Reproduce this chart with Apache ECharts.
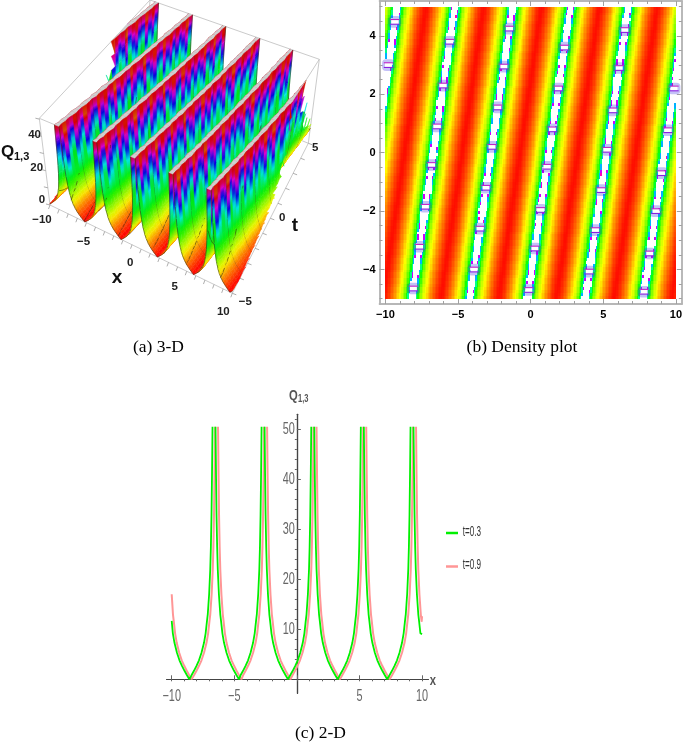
<!DOCTYPE html>
<html><head><meta charset="utf-8">
<style>html,body{margin:0;padding:0;background:#fff}#c{width:685px;height:742px}</style>
<script src="https://cdn.jsdelivr.net/npm/echarts@6/dist/echarts.min.js"></script>
</head><body><div id="c"></div>
<script>
// ---------- values ----------
const profileD = [0.12,0.16,0.2,0.25,0.3,0.39,0.5,0.57,0.67,0.8,1,1.2,1.4,1.6,1.8,1.99];
const profileQ = [50.5,41,33,26.5,22,17,13,11.5,9.2,7.3,5.3,3.8,2.7,1.7,0.8,0];
const poles03 = [-10.58,-6.62,-2.7,1.27,5.23,9.2];
const poles09 = [-10.4,-6.42,-2.5,1.45,5.42,9.4];
const edges03 = [11.7,9];
const edges09 = [17,12.6];
const ridgesAtMinus5 = [-12.16,-8.18,-4.2,-0.22,3.76,7.74,11.72];
const ridgesAtPlus5 = [-9.2,-5.22,-1.24,2.74,6.72,10.7,14.68];
const densityLevels = [.9,.9,.9,.88,.8,.55,.42,.36,.32,.29,.265,.245,.23,.215,.2,.19,.18,.17,.16,.15,.14,.13,.12,.11,.1,.092,.085,.077,.07,.062,.055,.048,.04,.035,.03,.025,.02,.015,.012,.01,.008];
const coreWidth = [.2,.25,.17,.22,.27,.18,.23,.16,.21,.26,.19,.24,.17,.22,.27,.2,.18,.25,.22,.16,.26,.19,.23,.28,.18,.21,.17,.26,.23,.19,.25,.16,.22,.27,.2,.18,.24,.21,.26,.17,.23,.19,.28,.22,.18,.25,.16,.23,.2,.26];
const barsA = [4.48,3.0];
const barsB = [3.8,2.3,0.9,-0.42,-1.85,-3.22,-4.65];
const barsC = [4.25,2.95,1.55,0.2,-1.2,-2.6,-4.0];
const barsD = [3.6,2.2,0.8,-0.48,-1.96,-3.28,-4.7];
const barsE = [4.2,2.9,1.45,0.1,-1.28,-2.65,-4.07];
const barsF = [2.2,0.77,-0.7,-2.0,-3.45,-4.76];
const streak = [.02,.17,.05,-.09,.2,.07,-.11,.13,.22,-.03,.06,.18,-.1,.02,.14,.21,-.07,.09,-.04,.19,.07,-.12,.16,-.02,.11,.23,-.09,.03,.17,.08,-.11,.2,.05,-.05,.14,.2,-.09,.1,-.03,.17];
const wallFrac = [0,.16,.36,.55,.7,.82,.92,1];
const wallHue = [0,.167,.33,.5,.67,.83,1,1];
const xTicksMajor = [-10,-5,0,5,10];
const xTicksMinor = [-10,-9,-8,-7,-6,-5,-4,-3,-2,-1,0,1,2,3,4,5,6,7,8,9,10];
const tTicksMajor = [-4,-2,0,2,4];
const tTicksMinor = [-5,-4.5,-4,-3.5,-3,-2.5,-2,-1.5,-1,-0.5,0,0.5,1,1.5,2,2.5,3,3.5,4,4.5,5];
const qTicksMajor = [10,20,30,40,50];
const qTicksMinor = [2,4,6,8,12,14,16,18,22,24,26,28,32,34,36,38,42,44,46,48,52];
const xLabels2D = [-10,-5,5,10];
const zTicks3D = [0,10,20,30,40,50];
const meshX = [-8.75,-7.5,-6.25,-5,-3.75,-2.5,-1.25,0,1.25,2.5,3.75,5,6.25,7.5,8.75];
const names = ['t=0.3','t=0.9'];

// ---------- projection box of the 3-D panel (page pixels) ----------
const zTop = 50.5;
const B = {a:[50,205], b:[232.3,293.3], c:[308.3,143.3], d:[145,75]};
const T = {a:[39.3,118.3], b:[230.7,198.3], c:[319.3,59.3], d:[150,0]};
function proj(x,t,z){
  const a=(x+10)/20, b=(t+5)/10, c=z/zTop;
  const bl=(S,i)=>S.a[i]*(1-a)*(1-b)+S.b[i]*a*(1-b)+S.c[i]*a*b+S.d[i]*(1-a)*b;
  return [bl(B,0)*(1-c)+bl(T,0)*c, bl(B,1)*(1-c)+bl(T,1)*c];
}
function hsv(h,s,v){
  h=((h%1)+1)%1;const i=Math.floor(h*6),f=h*6-i,p=v*(1-s),q=v*(1-f*s),u=v*(1-(1-f)*s);
  const m=[[v,u,p],[q,v,p],[p,v,u],[p,q,v],[u,p,v],[v,p,q]][i%6];
  return 'rgb('+m.map(c=>Math.round(c*255)).join(',')+')';
}
function surfColor(z,s){
  const f=Math.min(1,Math.max(0,z/zTop));
  let h=1;
  for(let k=1;k<wallFrac.length;k++) if(f<=wallFrac[k]){
    h=wallHue[k-1]+(wallHue[k]-wallHue[k-1])*(f-wallFrac[k-1])/(wallFrac[k]-wallFrac[k-1]);break;
  }
  const w=f<.4?0:(f<.62?(f-.4)/.22:(f<.88?1:Math.max(.2,1-(f-.88)/.12)));
  return hsv(h-s*w,1,1-.18*f);
}
const ridgeX=(i,t)=>ridgesAtMinus5[i]+(ridgesAtPlus5[i]-ridgesAtMinus5[i])*(t+5)/10;
function lookupQ(d){
  d=Math.abs(d); if(d<=profileD[0]) return zTop;
  for(let k=1;k<profileD.length;k++) if(d<=profileD[k]){
    const f=(d-profileD[k-1])/(profileD[k]-profileD[k-1]);
    return profileQ[k-1]+(profileQ[k]-profileQ[k-1])*f;
  }
  return 0;
}
function qAt(x,t){let best=9;for(let i=0;i<ridgesAtMinus5.length;i++){const d=Math.abs(x-ridgeX(i,t));if(d<best)best=d;}return lookupQ(best);}
// surface cells, back to front
const signed=[];
for(let k=profileD.length-1;k>=0;k--) signed.push([-1,profileD[k],profileQ[k]]);
for(let k=0;k<profileD.length;k++) signed.push([1,profileD[k],profileQ[k]]);
const capD=(d,w)=>w+(d-0.12)*(1.99-w)/1.87;   // the flat clipped cap has a rough width per row
function clipSeg(xa,za,xb,zb){
  if(xb<=-10) return [-10,za,-10,za,false];
  if(xa>=10) return [10,zb,10,zb,false];
  let a=xa,b=xb,pa=za,pb=zb;
  if(xa<-10){pa=za+(zb-za)*(-10-xa)/(xb-xa);a=-10;}
  if(xb>10){pb=za+(zb-za)*(10-xa)/(xb-xa);b=10;}
  return [a,pa,b,pb,true];
}
const cells=[];
const rowCount=40, rowStep=0.25;
for(let r=rowCount-1;r>=0;r--){
  const t1=-5+r*rowStep, t0=t1+rowStep; // t0 is the far edge
  for(let i=0;i<ridgesAtMinus5.length;i++){
    const r0=ridgeX(i,t0), r1=ridgeX(i,t1);
    const w0=coreWidth[(r+1+i*9)%coreWidth.length]-.02, w1=coreWidth[(r+i*9)%coreWidth.length]-.02;
    const sIdx=(r+i*5)%streak.length;
    for(let j=0;j<signed.length-1;j++){
      const s1=signed[j], s2=signed[j+1];
      const e0=clipSeg(r0+s1[0]*capD(s1[1],w0),s1[2],r0+s2[0]*capD(s2[1],w0),s2[2]);
      const e1=clipSeg(r1+s1[0]*capD(s1[1],w1),s1[2],r1+s2[0]*capD(s2[1],w1),s2[2]);
      if(!e0[4]&&!e1[4]) continue;
      const cap=s1[2]>=zTop&&s2[2]>=zTop;
      const mesh=[];
      if(!cap&&r%5===0) mesh.push([e1[0],t1,e1[1],e1[2],t1,e1[3]]);
      if(!cap&&r===rowCount-1) mesh.push([e0[0],t0,e0[1],e0[2],t0,e0[3]]);
      const midA=(e0[0]+e1[0])/2, midB=(e0[2]+e1[2])/2;
      if(!cap) for(const m of meshX) if(m>=midA&&m<midB){
        mesh.push([m,t0,qAt(m,t0),m,t1,qAt(m,t1)]);
      }
      cells.push({e0,e1,t0,t1,cap,s:streak[sIdx],mesh});
    }
  }
}
// density cells
const densityCells=[];
for(let r=0;r<100;r++){
  const t=-4.95+r*0.1;
  for(let c=0;c<200;c++){
    const x=-9.95+c*0.1;
    let best=9,bi=0;
    for(let i=0;i<ridgesAtMinus5.length;i++){const d=Math.abs(x-ridgeX(i,t));if(d<best){best=d;bi=i;}}
    const core=coreWidth[(Math.floor(r/2)+bi*9)%coreWidth.length];
    if(best<core) continue;
    densityCells.push([x,t,densityLevels[Math.min(40,Math.round(best/0.05))]]);
  }
}
const barList=[];
[barsA,barsB,barsC,barsD,barsE,barsF].forEach((list,i)=>list.forEach(t=>{const x=ridgeX(i,t);if(x>-10&&x<10)barList.push([x,t]);}));
// 2-D curves: every point is a table entry placed beside a pole
function curve(poles,edge){
  const pts=[[-10,edge[0]]];
  poles.forEach((p,idx)=>{
    if(idx>0){for(let k=profileD.length-1;k>=0;k--){const x=p-profileD[k];if(x>-10&&x<10)pts.push([x,profileQ[k]]);}
      pts.push([p,null]);}
    for(let k=0;k<profileD.length;k++){const x=p+profileD[k];if(x>-9.99&&x<9.99)pts.push([x,profileQ[k]]);}
  });
  pts.push([10,edge[1]]);
  return pts;
}
const green=curve(poles03,edges03), pink=curve(poles09,edges09);
const fmt=v=>String(v).replace('-','−');
const labels2D=xLabels2D.map(v=>[v,0,0,17,fmt(v),'center']).concat(qTicksMajor.map(v=>[0,v,-2,0,String(v),'right']));

// ---------- 3-D box, ticks, labels ----------
const c=[[-10,-5],[10,-5],[10,5],[-10,5]];
const boxEdges=[];
for(let k=0;k<4;k++){
  const p=c[k],q=c[(k+1)%4];
  boxEdges.push([p[0],p[1],0,q[0],q[1],0],[p[0],p[1],zTop,q[0],q[1],zTop],[p[0],p[1],0,p[0],p[1],zTop]);
}
const ticks3D=[];
xTicksMinor.forEach(x=>ticks3D.push([x,-5,0,-1.5,4]));
tTicksMinor.filter(t=>Number.isInteger(t)).forEach(t=>ticks3D.push([10,t,0,4,1.5]));
zTicks3D.forEach(z=>ticks3D.push([-10,-5,z,-4,-1]));
const labels3D=[
 [-10,-5,0,-8,15,'−10'],[-5,-5,0,-12,15,'−5'],[0,-5,0,-11,14,'0'],[5,-5,0,-12,16,'5'],[10,-5,0,-9,19,'10'],
 [10,-5,0,13,9,'−5'],[10,0,0,12,0,'0'],[10,5,0,7,5,'5'],
 [-10,-5,0,-8,-5,'0'],[-10,-5,20,-9,-3,'20'],[-10,-5,40,-7,-1,'40']
];

const GRAY='#5a5a5a';
const frame={show:true,lineStyle:{color:'#b4b4b4',width:1.5},onZero:false};
const dGrid={gridIndex:1};
function dAxisX(pos,major){
  return {...dGrid,type:'value',position:pos,min:-10.41,max:10.41,splitLine:{show:false},axisLine:frame,
    axisTick:{show:true,inside:true,length:major?5:3,lineStyle:{color:'#a0a0a0'},customValues:major?xTicksMajor:xTicksMinor},
    axisLabel:{show:major&&pos==='bottom',customValues:xTicksMajor,formatter:fmt,margin:5,color:'#000',fontWeight:'bold',fontSize:11,fontFamily:'Liberation Sans'}};
}
function dAxisY(pos,major){
  return {...dGrid,type:'value',position:pos,min:-5.18,max:5.195,splitLine:{show:false},axisLine:frame,
    axisTick:{show:true,inside:true,length:major?5:3,lineStyle:{color:'#a0a0a0'},customValues:major?tTicksMajor:tTicksMinor},
    axisLabel:{show:major&&pos==='left',customValues:tTicksMajor,formatter:fmt,margin:4,color:'#000',fontWeight:'bold',fontSize:11,fontFamily:'Liberation Sans'}};
}
const line2d={show:true,onZero:true,lineStyle:{color:'#444',width:1.2}};
const squeezed=(x,y,text,font,sx,align,fill)=>({type:'text',x,y,scaleX:sx,style:{text,align:align||'center',verticalAlign:'middle',font,fill:fill||GRAY}});
const option={
 animation:false,
 grid:[
  {left:0,right:0,top:0,bottom:0,show:false},
  {left:379.5,right:1,top:1,bottom:438,show:false},
  {left:166.7,right:256.7,top:414.3,bottom:48.7,show:false}
 ],
 xAxis:[
  {gridIndex:0,type:'value',min:0,max:685,show:false},
  dAxisX('bottom',true),dAxisX('bottom',false),dAxisX('top',true),dAxisX('top',false),
  {gridIndex:2,type:'value',min:-10.4,max:10.5,splitLine:{show:false},axisLine:line2d,
   axisTick:{inside:true,length:4,lineStyle:{color:'#666'},customValues:xTicksMajor},axisLabel:{show:false}},
  {gridIndex:2,type:'value',min:-10.4,max:10.5,splitLine:{show:false},axisLine:line2d,
   axisTick:{inside:true,length:2,lineStyle:{color:'#666'},customValues:xTicksMinor},axisLabel:{show:false}}
 ],
 yAxis:[
  {gridIndex:0,type:'value',min:0,max:742,inverse:true,show:false},
  dAxisY('left',true),dAxisY('left',false),dAxisY('right',true),dAxisY('right',false),
  {gridIndex:2,type:'value',min:-2.8,max:53,splitLine:{show:false},axisLine:line2d,
   axisTick:{inside:true,length:4,lineStyle:{color:'#666'},customValues:qTicksMajor},axisLabel:{show:false}},
  {gridIndex:2,type:'value',min:-2.8,max:53,splitLine:{show:false},axisLine:line2d,
   axisTick:{inside:true,length:2,lineStyle:{color:'#666'},customValues:qTicksMinor},axisLabel:{show:false}}
 ],
 legend:{data:names.map(n=>({name:n,icon:'rect'})),orient:'vertical',left:441,top:522,itemWidth:12,itemHeight:2.5,itemGap:21.5,selectedMode:false,
   formatter:()=>' ',textStyle:{fontSize:10,lineHeight:12}},
 graphic:[
  {type:'text',x:158.5,y:347,style:{text:'(a) 3-D',align:'center',verticalAlign:'middle',font:'17.5px "Liberation Serif"',fill:'#000'}},
  {type:'text',x:522,y:347,style:{text:'(b) Density plot',align:'center',verticalAlign:'middle',font:'17.5px "Liberation Serif"',fill:'#000'}},
  {type:'text',x:320.5,y:733,style:{text:'(c) 2-D',align:'center',verticalAlign:'middle',font:'17.5px "Liberation Serif"',fill:'#000'}},
  {type:'text',x:1,y:152,style:{text:'Q',verticalAlign:'middle',font:'bold 17px "Liberation Sans"',fill:'#111'}},
  {type:'text',x:14,y:157,style:{text:'1,3',verticalAlign:'middle',font:'bold 11px "Liberation Sans"',fill:'#111'}},
  {type:'text',x:117,y:278,style:{text:'x',align:'center',verticalAlign:'middle',font:'bold 19px "Liberation Sans"',fill:'#111'}},
  {type:'text',x:295,y:226,style:{text:'t',align:'center',verticalAlign:'middle',font:'bold 19px "Liberation Sans"',fill:'#111'}},
  squeezed(289,396,'Q','bold 15px "Liberation Sans"',.75,'left','#555'),
  squeezed(298,399,'1,3','bold 10px "Liberation Sans"',.75,'left','#555'),
  squeezed(433,681,'x','bold 15px "Liberation Sans"',.75,'center','#555'),
  squeezed(462.7,532,names[0],'14px "Liberation Sans"',.58,'left','#333'),
  squeezed(462.7,565.5,names[1],'14px "Liberation Sans"',.58,'left','#333')
 ],
 series:[
  {type:'custom',name:'box',coordinateSystem:'cartesian2d',xAxisIndex:0,yAxisIndex:0,z:1,silent:true,clip:false,
   data:boxEdges.map((e,i)=>[i,i]),
   renderItem(p,api){const e=boxEdges[p.dataIndex];const a=api.coord(proj(e[0],e[1],e[2])),b=api.coord(proj(e[3],e[4],e[5]));
     return {type:'line',shape:{x1:a[0],y1:a[1],x2:b[0],y2:b[1]},style:{stroke:'#bdbdbd',lineWidth:0.8}};}},
  {type:'custom',name:'ticks',coordinateSystem:'cartesian2d',xAxisIndex:0,yAxisIndex:0,z:1,silent:true,clip:false,
   data:ticks3D.map((e,i)=>[i,i]),
   renderItem(p,api){const e=ticks3D[p.dataIndex];const a=api.coord(proj(e[0],e[1],e[2]));
     return {type:'line',shape:{x1:a[0],y1:a[1],x2:a[0]+e[3],y2:a[1]+e[4]},style:{stroke:'#999',lineWidth:0.8}};}},
  {type:'custom',name:'surface',coordinateSystem:'cartesian2d',xAxisIndex:0,yAxisIndex:0,z:2,silent:true,clip:false,progressive:0,
   data:cells.map((e,i)=>[i,i]),
   renderItem(p,api){
     const q=cells[p.dataIndex];
     const A=api.coord(proj(q.e0[0],q.t0,q.e0[1])), Bb=api.coord(proj(q.e0[2],q.t0,q.e0[3])),
           Cc=api.coord(proj(q.e1[2],q.t1,q.e1[3])), D=api.coord(proj(q.e1[0],q.t1,q.e1[1]));
     let fill;
     if(q.cap) fill='#cfcfcf';
     else{
       const z1=(q.e0[1]+q.e1[1])/2, z2=(q.e0[3]+q.e1[3])/2;
       const ex=D[0]-A[0],ey=D[1]-A[1],nx=-ey,ny=ex,nn=nx*nx+ny*ny||1;
       const dot=((Bb[0]-A[0])*nx+(Bb[1]-A[1])*ny)/nn;
       const gx=nx*dot,gy=ny*dot;
       if(Math.abs(z1-z2)<0.15||Math.abs(gx)+Math.abs(gy)<0.01) fill=surfColor((z1+z2)/2,q.s);
       else{
         const n=Math.min(8,Math.max(1,Math.ceil(Math.abs(z1-z2)/3))), stops=[];
         for(let k=0;k<=n;k++) stops.push({offset:k/n,color:surfColor(z1+(z2-z1)*k/n,q.s)});
         fill=new echarts.graphic.LinearGradient(A[0],A[1],A[0]+gx,A[1]+gy,stops,true);
       }
     }
     const kids=[{type:'polygon',shape:{points:[A,Bb,Cc,D]},style:{fill,stroke:fill,lineWidth:0.5}}];
     q.mesh.forEach(m=>{
       if(m[2]>=zTop-1&&m[5]>=zTop-1) return;
       const a=api.coord(proj(m[0],m[1],m[2])), b=api.coord(proj(m[3],m[4],m[5]));
       kids.push({type:'line',shape:{x1:a[0],y1:a[1],x2:b[0],y2:b[1]},style:{stroke:'rgba(50,45,20,0.8)',lineWidth:0.7}});
     });
     return {type:'group',children:kids};
   }},
  {type:'custom',name:'labels3d',coordinateSystem:'cartesian2d',xAxisIndex:0,yAxisIndex:0,z:3,silent:true,clip:false,
   data:labels3D.map((e,i)=>[i,i]),
   renderItem(p,api){const e=labels3D[p.dataIndex];const a=api.coord(proj(e[0],e[1],e[2]));
     return {type:'text',x:a[0]+e[3],y:a[1]+e[4],style:{text:e[5],align:'center',verticalAlign:'middle',font:'bold 11.5px "Liberation Sans"',fill:'#222'}};}},
  {type:'custom',name:'density',coordinateSystem:'cartesian2d',xAxisIndex:1,yAxisIndex:1,z:2,silent:true,clip:false,progressive:0,
   data:densityCells,
   renderItem(p,api){const x=api.value(0),t=api.value(1),l=api.value(2);
     const a=api.coord([x-.05,t+.05]),b=api.coord([x+.05,t-.05]);
     const L=Math.round(a[0]),Y=Math.round(a[1]);
     return {type:'rect',shape:{x:L,y:Y,width:Math.max(1,Math.round(b[0])-L),height:Math.max(1,Math.round(b[1])-Y)},style:{fill:hsv(l,1,1)}};}},
  {type:'custom',name:'bars',coordinateSystem:'cartesian2d',xAxisIndex:1,yAxisIndex:1,z:3,silent:true,clip:false,
   data:barList,
   renderItem(p,api){const x=api.value(0),t=api.value(1);
     const a=api.coord([x-.24,t+.08]),b=api.coord([x+.24,t-.08]),l=api.coord([x-.32,t]),r=api.coord([x+.32,t]);
     const ha=api.coord([x-.44,t+.2]),hb=api.coord([x+.44,t-.2]);
     return {type:'group',children:[
       {type:'rect',shape:{x:ha[0],y:ha[1],width:hb[0]-ha[0],height:hb[1]-ha[1],r:4},style:{fill:'rgba(60,50,230,0.3)'}},
       {type:'rect',shape:{x:a[0],y:a[1],width:b[0]-a[0],height:b[1]-a[1]},style:{fill:'#fff'}},
       {type:'line',shape:{x1:l[0],y1:a[1],x2:r[0],y2:a[1]},style:{stroke:'#c024c8',lineWidth:1.1}},
       {type:'line',shape:{x1:l[0],y1:b[1],x2:r[0],y2:b[1]},style:{stroke:'#8a20e0',lineWidth:1.1}}
     ]};}},
  {type:'custom',name:'labels2d',coordinateSystem:'cartesian2d',xAxisIndex:5,yAxisIndex:5,z:5,silent:true,clip:false,
   data:labels2D.map(e=>[e[0],e[1]]),
   renderItem(p,api){const e=labels2D[p.dataIndex];const a=api.coord([e[0],e[1]]);
     return {type:'text',x:a[0]+e[2],y:a[1]+e[3],scaleX:.68,style:{text:e[4],align:e[5],verticalAlign:'middle',font:'16px "Liberation Sans"',fill:'#666'}};}},
  {type:'line',name:names[1],xAxisIndex:5,yAxisIndex:5,data:pink,showSymbol:false,connectNulls:false,z:3,silent:true,
   lineStyle:{color:'rgb(255,150,150)',width:2},itemStyle:{color:'rgb(255,150,150)'}},
  {type:'line',name:names[0],xAxisIndex:5,yAxisIndex:5,data:green,showSymbol:false,connectNulls:false,z:4,silent:true,
   lineStyle:{color:'#00f000',width:1.8},itemStyle:{color:'#00f000'}}
 ]
};
const chart=echarts.init(document.getElementById('c'),null,{renderer:'canvas'});
chart.setOption(option);
</script></body></html>
